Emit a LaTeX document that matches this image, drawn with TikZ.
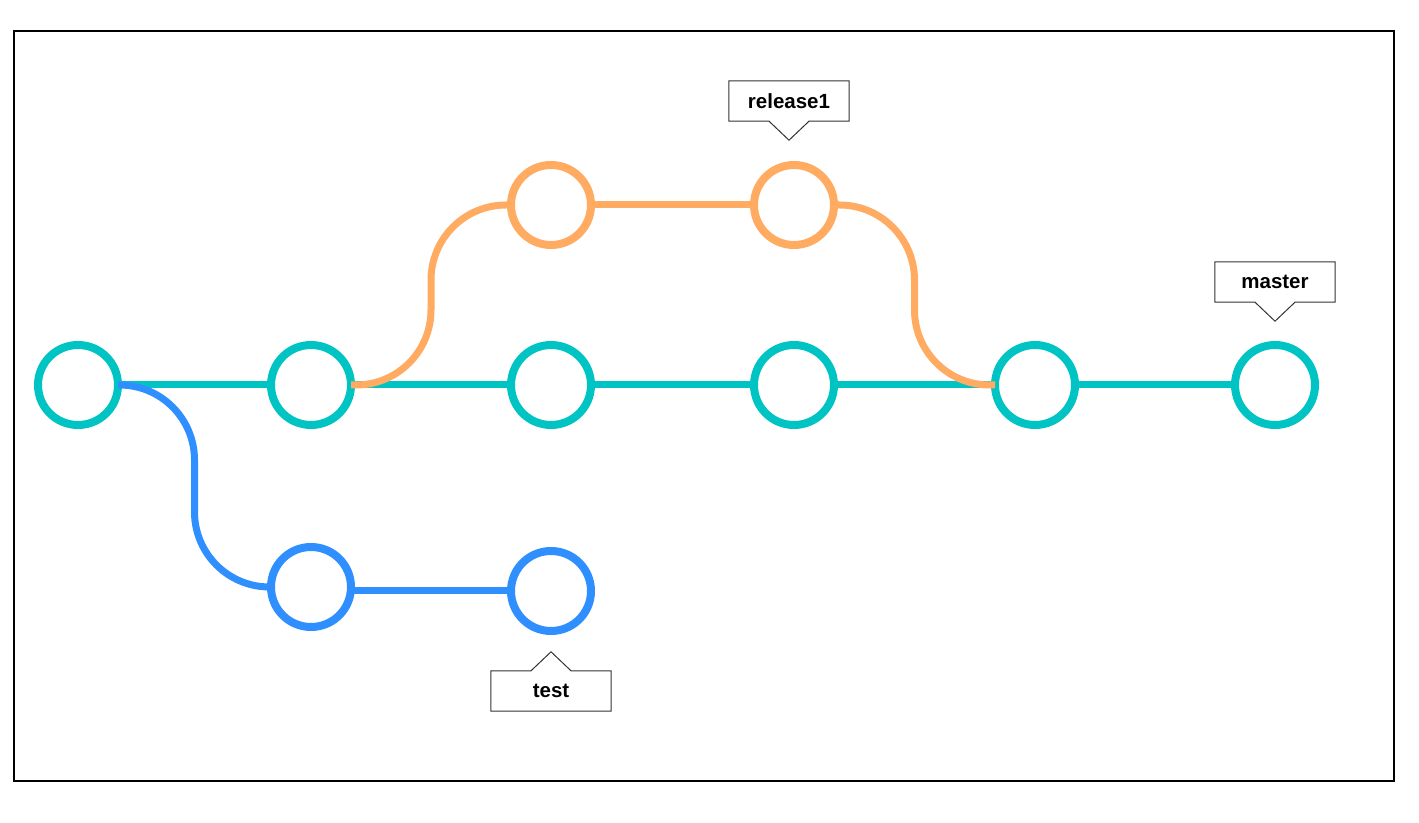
\documentclass[tikz,border=0pt]{standalone}
\usepackage{fontspec}
\setmainfont{Liberation Sans}
\usetikzlibrary{calc}
\definecolor{gitteal}{rgb}{0, 0.77, 0.77}
\definecolor{gitorange}{rgb}{1.0, 0.67, 0.38}
\definecolor{gitblue}{rgb}{0.19, 0.56, 1.0}

\begin{document}
\begin{tikzpicture}[x=1pt, y=1pt,
        commit/.style={draw, circle, line width=8pt, minimum size=80pt, inner sep=0pt, outer sep=0pt, fill=white},
        branchline/.style={line width=7pt, rounded corners=75pt},
        tag/.style={font=\fontsize{20.5}{24}\selectfont\bfseries, minimum width=120pt, minimum height=40pt, inner sep=0pt},
        tagline/.style={line width=1pt, draw=black!80}]
        \useasboundingbox (0,0) rectangle (1419,822);
        \draw [line width=1.3pt] (14,41) rectangle (1394,791);

        \node [commit, draw=gitteal] (M1) at (78, 437) {};
        \node [commit, draw=gitteal] (M2) at (311, 437) {};
        \node [commit, draw=gitteal] (M3) at (551, 437) {};
        \node [commit, draw=gitteal] (M4) at (794, 437) {};
        \node [commit, draw=gitteal] (M5) at (1035, 437) {};
        \node [commit, draw=gitteal] (M6) at (1275, 437) {};

        \node [commit, draw=gitorange] (R1) at (551, 617) {};
        \node [commit, draw=gitorange] (R2) at (794, 617) {};

        \node [commit, draw=gitblue] (T1) at (311, 235) {};
        \node [commit, draw=gitblue] (T2) at (551, 231) {};

        \coordinate (Bmid) at ($(M1.east)!0.5!(T1.west)$);
        \coordinate (Rmid) at ($(M2.east)!0.5!(R1.west)$);
        \coordinate (Smid) at ($(R2.east)!0.5!(M5.west)$);

        \draw [line width=7pt, color=gitteal] (M1) -- (M2);
        \draw [line width=7pt, color=gitteal] (M2) -- (M3);
        \draw [line width=7pt, color=gitteal] (M3) -- (M4);
        \draw [line width=7pt, color=gitteal] (M4) -- (M5);
        \draw [line width=7pt, color=gitteal] (M5) -- (M6);

        \draw [line width=7pt, color=gitorange] (R1) -- (R2);
        \draw [line width=7pt, color=gitblue] (T1.east |- T2.west) -- (T2.west);

        \draw [branchline, color=gitblue] (M1.east) -| (Bmid |- T1.west) -- (T1.west);
        \draw [branchline, color=gitorange] (M2.east) -| (Rmid |- R1.west) -- (R1.west);
        \draw [branchline, color=gitorange] (R2.east) -| (Smid |- M5.west) -- (M5.west);

        \node [tag] (release) at (789, 721) {release1};
        \draw [tagline] ($(release.south)+(20,0)$) -- (release.south east) -- (release.north east) -- (release.north west) -- (release.south west) -- ($(release.south)+(-20,0)$) -- ($(release.south)+(0,-19)$) -- cycle;

        \node [tag] (master) at (1275, 540) {master};
        \draw [tagline] ($(master.south)+(20,0)$) -- (master.south east) -- (master.north east) -- (master.north west) -- (master.south west) -- ($(master.south)+(-20,0)$) -- ($(master.south)+(0,-19)$) -- cycle;

        \node [tag] (test) at (551, 131) {test};
        \draw [tagline] ($(test.north)+(-20,0)$) -- (test.north west) -- (test.south west) -- (test.south east) -- (test.north east) -- ($(test.north)+(20,0)$) -- ($(test.north)+(0,19)$) -- cycle;
\end{tikzpicture}
\end{document}
